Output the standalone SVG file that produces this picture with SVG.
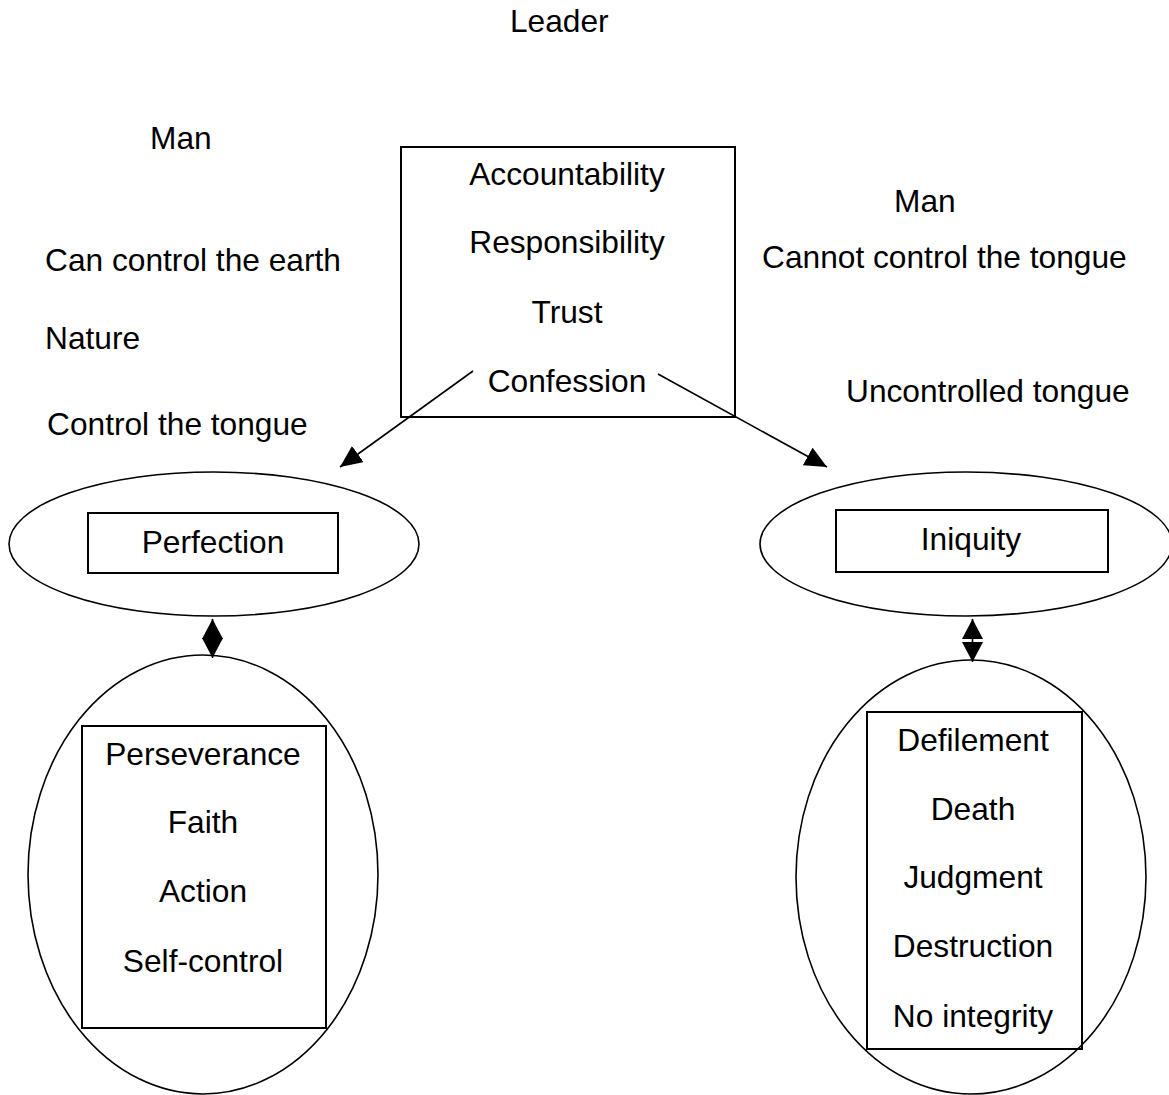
<svg xmlns="http://www.w3.org/2000/svg" width="1169" height="1095" viewBox="0 0 1169 1095">
<style>
text{font-family:"Liberation Sans",Arial,sans-serif;font-size:31.7px;fill:#000}
.c{text-anchor:middle}
.box{fill:none;stroke:#000;stroke-width:2}
.ell{fill:none;stroke:#000;stroke-width:1.6}
.con{fill:none;stroke:#000;stroke-width:1.6}
</style>
<defs>
<marker id="arr" markerUnits="userSpaceOnUse" markerWidth="24" markerHeight="22" refX="22" refY="10" orient="auto"><path d="M0,0 L22,10 L0,20 z" fill="#000"/></marker>
<marker id="tri" markerUnits="userSpaceOnUse" markerWidth="22" markerHeight="22" refX="20" refY="10.5" orient="auto-start-reverse"><path d="M0,0 L20,10.5 L0,21 z" fill="#000"/></marker>
</defs>
<g id="labels">
<text x="510" y="32">Leader</text>
<text x="150" y="149">Man</text>
<text x="45" y="271">Can control the earth</text>
<text x="45" y="349">Nature</text>
<text x="47" y="435">Control the tongue</text>
<text x="894" y="212">Man</text>
<text x="762" y="268">Cannot control the tongue</text>
<text x="846" y="402">Uncontrolled tongue</text>
</g>
<g id="center">
<rect class="box" x="401" y="147" width="334" height="270"/>
<text class="c" x="567" y="185">Accountability</text>
<text class="c" x="567" y="253">Responsibility</text>
<text class="c" x="567" y="323">Trust</text>
<text class="c" x="567" y="392">Confession</text>
</g>
<g id="perfection">
<ellipse class="ell" cx="214" cy="544" rx="205" ry="72"/>
<rect class="box" x="88" y="513" width="250" height="60"/>
<text class="c" x="213" y="553">Perfection</text>
</g>
<g id="iniquity">
<ellipse class="ell" cx="966" cy="544" rx="206" ry="72"/>
<rect class="box" x="836" y="510" width="272" height="62"/>
<text class="c" x="971" y="550">Iniquity</text>
</g>
<g id="virtues">
<ellipse class="ell" cx="203" cy="874.5" rx="175" ry="219.5"/>
<rect class="box" x="82" y="726" width="244" height="302"/>
<text class="c" x="203" y="765">Perseverance</text>
<text class="c" x="203" y="833">Faith</text>
<text class="c" x="203" y="902">Action</text>
<text class="c" x="203" y="972">Self-control</text>
</g>
<g id="consequences">
<ellipse class="ell" cx="971" cy="877" rx="175" ry="217"/>
<rect class="box" x="867" y="712" width="215" height="337"/>
<text class="c" x="973" y="751">Defilement</text>
<text class="c" x="973" y="820">Death</text>
<text class="c" x="973" y="888">Judgment</text>
<text class="c" x="973" y="957">Destruction</text>
<text class="c" x="973" y="1027">No integrity</text>
</g>
<g id="connectors">
<line class="con" x1="473" y1="371" x2="340" y2="467" marker-end="url(#arr)"/>
<line class="con" x1="658" y1="374" x2="827" y2="467" marker-end="url(#arr)"/>
<line class="con" x1="212.5" y1="619" x2="212.5" y2="658" marker-start="url(#tri)" marker-end="url(#tri)"/>
<line class="con" x1="972.5" y1="619" x2="972.5" y2="662" marker-start="url(#tri)" marker-end="url(#tri)"/>
</g>
</svg>
